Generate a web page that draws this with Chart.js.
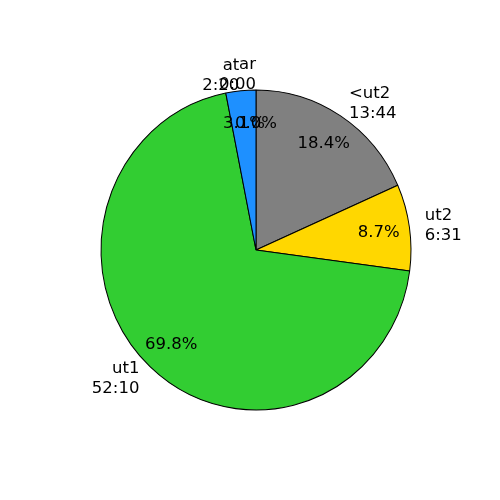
<!DOCTYPE html>
<html>
<head>
<meta charset="utf-8">
<script src="https://cdn.jsdelivr.net/npm/chart.js@4/dist/chart.umd.min.js"></script>
<style>
  html, body { margin: 0; padding: 0; background: #fff; }
  #wrap { width: 500px; height: 500px; }
</style>
</head>
<body>
<div id="wrap"><canvas id="pie" width="500" height="500"></canvas></div>
<script>
// time spent per category (minutes), clockwise from the top
const categories = ['<ut2', 'ut2', 'ut1', 'at', 'ar'];
const durations = ['13:44', '6:31', '52:10', '2:20', '0:00'];
const minutes = [824, 391, 3130, 140, 0];
const sliceColors = ['#808080', '#ffd700', '#32cd32', '#1e90ff', '#ff0000'];

const FONT = '16.5px "DejaVu Sans", sans-serif';
const Y_STRETCH = 160 / 155; // reference pie is slightly taller than wide

const total = minutes.reduce((a, b) => a + b, 0);

// stretch the arcs vertically around the centre
const ellipsePlugin = {
  id: 'ellipse',
  beforeDatasetsDraw(chart) {
    const arc = chart.getDatasetMeta(0).data[0];
    const ctx = chart.ctx;
    ctx.save();
    ctx.translate(arc.x, arc.y);
    ctx.scale(1, Y_STRETCH);
    ctx.translate(-arc.x, -arc.y);
  },
  afterDatasetsDraw(chart) {
    chart.ctx.restore();
  },
};

// category labels outside, percentages inside
const labelPlugin = {
  id: 'pieLabels',
  afterDraw(chart) {
    const ctx = chart.ctx;
    const meta = chart.getDatasetMeta(0);
    ctx.save();
    ctx.font = FONT;
    ctx.fillStyle = '#000';
    ctx.textBaseline = 'alphabetic';

    meta.data.forEach((arc, i) => {
      const a = (arc.startAngle + arc.endAngle) / 2;
      const rx = arc.outerRadius;
      const ry = arc.outerRadius * Y_STRETCH;
      const c = Math.cos(a), s = Math.sin(a);

      // outside label, two lines
      const lx = arc.x + 1.1 * rx * c;
      const ly = arc.y + 1.1 * ry * s;
      ctx.textAlign = c > 1e-9 ? 'left' : 'right';
      ctx.fillText(categories[i], lx, ly - 5);
      ctx.fillText(durations[i], lx, ly + 15);

      // percentage
      const px = arc.x + 0.8 * rx * c;
      const py = arc.y + 0.8 * ry * s;
      ctx.textAlign = 'center';
      ctx.fillText((minutes[i] / total * 100).toFixed(1) + '%', px, py + 5.5);
    });
    ctx.restore();
  },
};

new Chart(document.getElementById('pie'), {
  type: 'pie',
  data: {
    labels: categories,
    datasets: [{
      data: minutes,
      backgroundColor: sliceColors,
      borderColor: '#000',
      borderWidth: 1,
    }],
  },
  options: {
    responsive: false,
    animation: false,
    radius: 155,
    layout: { padding: { left: 12, right: 0, top: 0, bottom: 0 } },
    plugins: {
      legend: { display: false },
      tooltip: { enabled: false },
    },
  },
  plugins: [ellipsePlugin, labelPlugin],
});
</script>
</body>
</html>
